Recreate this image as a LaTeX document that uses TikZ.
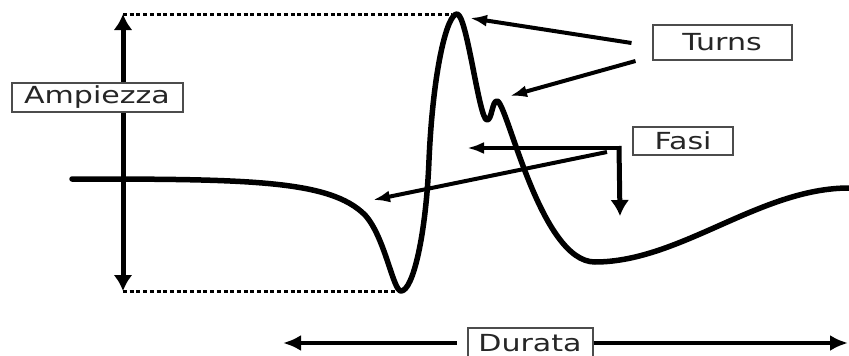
\documentclass[tikz,border=0pt]{standalone}
\usepackage{fontspec}
\newfontfamily\lblfont[FakeStretch=1.28]{DejaVu Sans}
\usetikzlibrary{arrows.meta,positioning,calc}

\begin{document}
\begin{tikzpicture}[x=1pt,y=-1pt,
  lbl/.style={draw=black!70,line width=2pt,fill=white,text=black!85,inner sep=0pt,
              font=\lblfont\fontsize{23.5}{25}\selectfont,minimum height=29pt},
  wave/.style={line width=5.5pt,line join=round,line cap=round},
  ptr/.style={-{Latex[length=17pt,width=12pt]},line width=4pt},
  bigptr/.style={-{Latex[length=16pt,width=19pt]},line width=5pt},
  guide/.style={line width=3pt,dash pattern=on 4pt off 2.7pt}]

\useasboundingbox (0,0) rectangle (849,356);

% amplitude -- guides and double arrow
\coordinate (atop) at (123,14);
\coordinate (abot) at (123,291);
\draw[guide] (atop) -- (452,14);
\draw[guide] (abot) -- (397,291);
\draw[bigptr,{Latex[length=16pt,width=19pt]}-{Latex[length=16pt,width=19pt]}] (atop) -- (abot);
\node[lbl,minimum width=171pt] (amp) at (97,97) {Ampiezza};

% potential
\draw[wave] (72,179) .. controls (250,179) and (330,180) .. (365,215)
  .. controls (385,237) and (393,291) .. (401,291)
  .. controls (413,291) and (426,235) .. (429,160)
  .. controls (433,70) and (447,14) .. (457,14)
  .. controls (467,14) and (479,120) .. (487,120)
  .. controls (492,120) and (492,101) .. (497,101)
  .. controls (507,101) and (540,262) .. (595,262)
  .. controls (680,262) and (760,188) .. (849,188);

% labels
\node[lbl,minimum width=139pt,minimum height=35pt] (turns) at (722,42) {Turns};
\node[lbl,minimum width=100pt,minimum height=28pt] (fasi) at (683,141) {Fasi};
\node[lbl,minimum width=125pt,minimum height=30pt] (durata) at (530,343) {Durata};

% turns
\coordinate (t1) at (470,18);
\coordinate (t2) at (510,96);
\draw[ptr] ($(turns.west)+(-20,1)$) -- (t1);
\draw[ptr] ($(turns.west)+(-16,19)$) -- (t2);

% phases
\coordinate (fc) at ($(fasi.west)+(-13,7)$);
\coordinate (f1) at (467,148);
\coordinate (f2) at (620,216);
\coordinate (f3) at (373,200);
\draw[ptr] ($(fc)+(2,0)$) -- (f1);
\draw[bigptr] ($(fc)+(0,-2)$) -- (f2);
\draw[ptr] ($(fc)+(-12,4)$) -- (f3);

% duration
\coordinate (dl) at (283,343);
\coordinate (dr) at (848,343);
\draw[ptr,-{Latex[length=18pt,width=16pt]},shorten <=10pt] (durata.west) -- (dl);
\draw[ptr,-{Latex[length=18pt,width=16pt]}] (durata.east) -- (dr);

\end{tikzpicture}
\end{document}
